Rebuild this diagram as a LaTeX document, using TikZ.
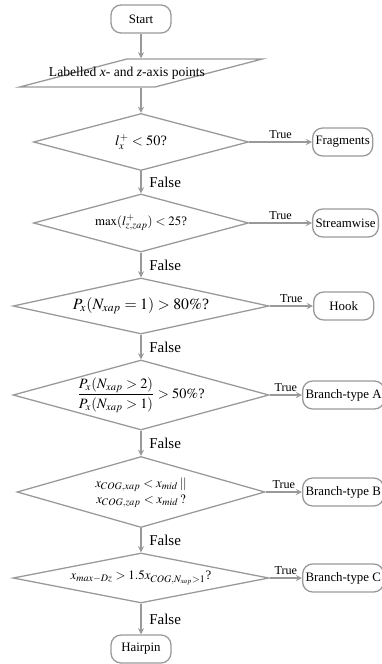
\documentclass[tikz,border=0pt]{standalone}
\usepackage{amsmath}
\usepackage{mathptmx}
\usepackage{fontspec}
\setmainfont{Liberation Serif}
\usetikzlibrary{shapes.geometric}
\usetikzlibrary{positioning}
\definecolor{linegray}{gray}{0.6}
\newcommand{\pxu}{0.0246cm}
\newcommand{\cond}[1]{\makebox[0pt]{#1}}
\tikzstyle{terminal}=[rectangle, rounded corners=7pt, draw=linegray, line width=0.9pt, minimum width=60*\pxu, minimum height=28*\pxu, inner xsep=2pt, font=\fontsize{9}{11}\selectfont]
\tikzstyle{io}=[trapezium, trapezium left angle=31, trapezium right angle=149, trapezium stretches=true, draw=linegray, line width=0.9pt, minimum width=244*\pxu, minimum height=28*\pxu, font=\fontsize{9.5}{11}\selectfont]
\tikzstyle{decision}=[diamond, draw=linegray, line width=0.9pt, inner sep=0pt, font=\fontsize{10}{12}\selectfont]
\tikzstyle{arr}=[draw=linegray, line width=0.9pt, ->, >=stealth]
\tikzstyle{yes}=[above, font=\fontsize{8.5}{10}\selectfont, inner sep=2pt]
\tikzstyle{no}=[right, xshift=2pt, font=\fontsize{10.5}{12}\selectfont]

\begin{document}
\begin{tikzpicture}[x=\pxu, y=-\pxu]
	\useasboundingbox (0,0) rectangle (382,664);
	\node[terminal] (start) at (141,19) {Start};
	\node[io] (input) at (141,73) {\cond{\hspace*{-19.6pt}Labelled \textit{x}- and \textit{z}-axis points}};
	\node[decision, minimum width=215*\pxu, minimum height=57*\pxu] (c1) at (141,142) {\cond{$l_x^+ < 50$?}};
	\node[decision, minimum width=215*\pxu, minimum height=58*\pxu, font=\fontsize{9}{11}\selectfont] (c2) at (141,223) {\cond{$\max(l^+_{z,zap}) < 25$?}};
	\node[decision, minimum width=256*\pxu, minimum height=56*\pxu, font=\fontsize{11}{13}\selectfont] (c3) at (141,306) {\cond{$P_x(N_{xap}=1) > 80\%$?}};
	\node[decision, minimum width=256*\pxu, minimum height=70*\pxu] (c4) at (141,395) {\cond{$\dfrac{P_x(N_{xap}>2)}{P_x(N_{xap}>1)} > 50\%$?}};
	\node[decision, minimum width=248*\pxu, minimum height=71*\pxu, font=\fontsize{9}{11}\selectfont] (c5) at (141,492) {\cond{\begin{tabular}{@{}c@{}}$x_{COG,xap} < x_{mid}\,||$\\ $x_{COG,zap} < x_{mid}\,?$\end{tabular}}};
	\node[decision, minimum width=256*\pxu, minimum height=50*\pxu, font=\fontsize{9}{11}\selectfont] (c6) at (141,578) {\cond{$x_{max-Dz} > 1.5x_{COG,N_{xap}>1}$?}};
	\node[terminal] (hairpin) at (141,649) {Hairpin};
	% outcomes
	\node[terminal, anchor=west] (frag) at (312,142) {Fragments};
	\node[terminal, anchor=west] (stream) at (312,223) {Streamwise};
	\node[terminal, anchor=west] (hook) at (313,306) {Hook};
	\node[terminal, anchor=west] (brA) at (302,395) {Branch-type A};
	\node[terminal, anchor=west] (brB) at (302,492) {Branch-type B};
	\node[terminal, anchor=west] (brC) at (302,578) {Branch-type C};
	% flow
	\draw[arr] (start) -- (input);
	\draw[arr] (input) -- (c1);
	\draw[arr] (c1) -- node[no]{False} (c2);
	\draw[arr] (c2) -- node[no]{False} (c3);
	\draw[arr] (c3) -- node[no]{False} (c4);
	\draw[arr] (c4) -- node[no]{False} (c5);
	\draw[arr] (c5) -- node[no]{False} (c6);
	\draw[arr] (c6) -- node[no]{False} (hairpin);
	\draw[arr] (c1.east) -- node[yes]{True} (frag);
	\draw[arr] (c2.east) -- node[yes]{True} (stream);
	\draw[arr] (c3.east) -- node[yes]{True} (hook);
	\draw[arr] (c4.east) -- node[yes]{True} (brA);
	\draw[arr] (c5.east) -- node[yes]{True} (brB);
	\draw[arr] (c6.east) -- node[yes]{True} (brC);
\end{tikzpicture}
\end{document}
